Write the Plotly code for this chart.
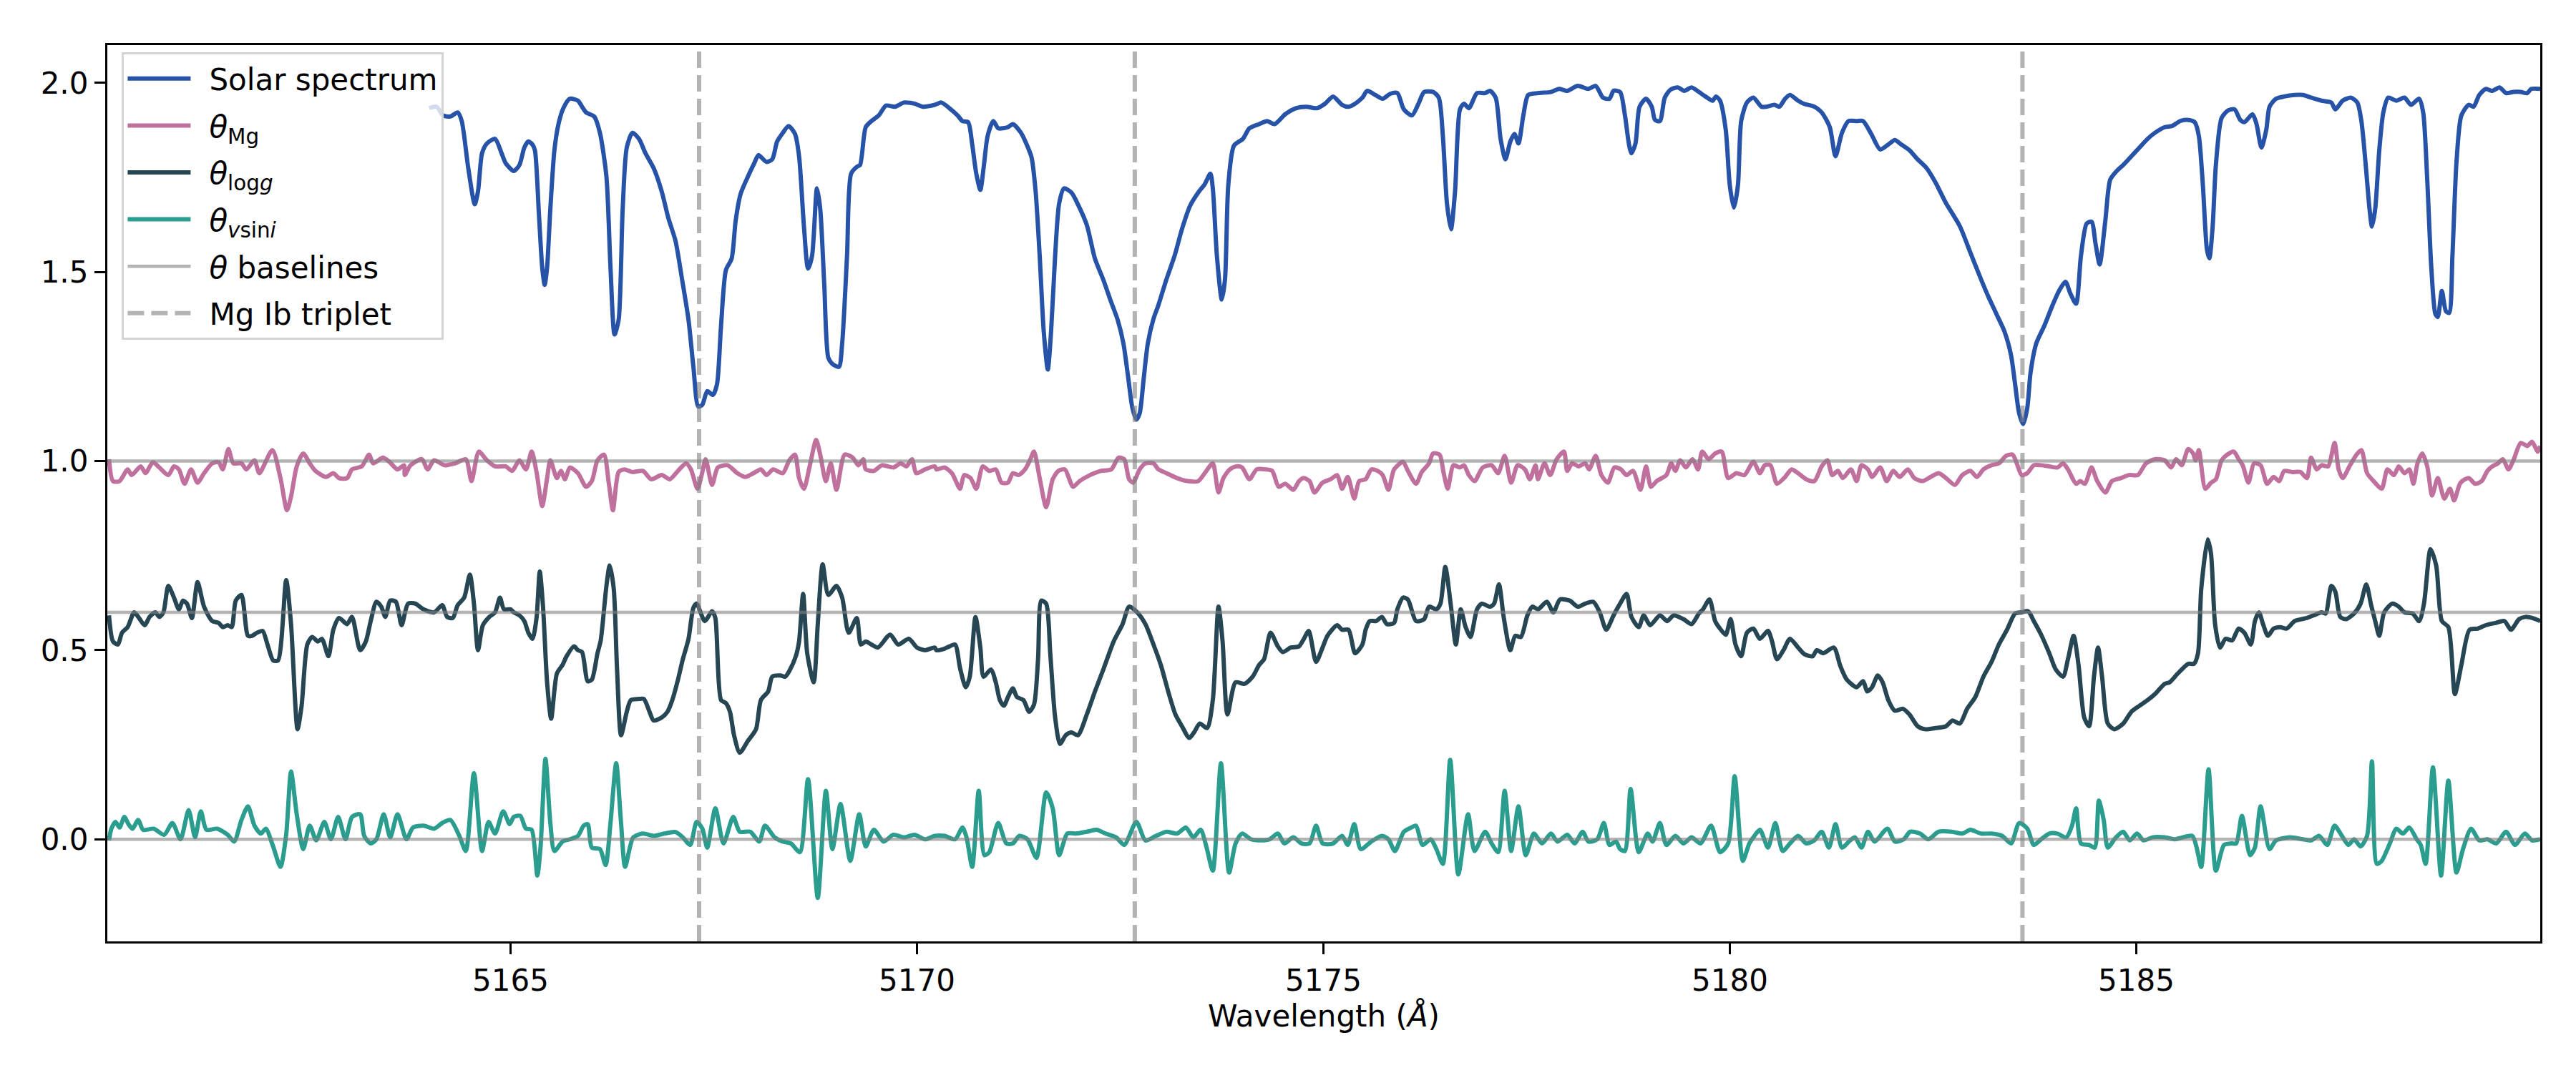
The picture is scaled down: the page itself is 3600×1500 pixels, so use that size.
import plotly.graph_objects as go

# values: (wavelength in A, value)
spectrum_pts = [
    (5164.00, 1.933), (5164.09, 1.937), (5164.17, 1.914), (5164.26, 1.911), (5164.35, 1.922), (5164.40, 1.899),
    (5164.48, 1.775), (5164.56, 1.679), (5164.60, 1.713), (5164.65, 1.814), (5164.71, 1.840), (5164.81, 1.852),
    (5164.89, 1.814), (5164.94, 1.788), (5165.04, 1.767),
    (5165.11, 1.783), (5165.17, 1.829), (5165.22, 1.845), (5165.27, 1.837), (5165.30, 1.822), (5165.35, 1.651),
    (5165.39, 1.512), (5165.42, 1.466), (5165.45, 1.512), (5165.49, 1.667), (5165.54, 1.822), (5165.59, 1.891),
    (5165.65, 1.933), (5165.73, 1.958), (5165.83, 1.953), (5165.88, 1.937), (5165.93, 1.922), (5166.03, 1.911),
    (5166.10, 1.868), (5166.18, 1.752), (5166.23, 1.512), (5166.28, 1.335), (5166.33, 1.373), (5166.38, 1.667),
    (5166.43, 1.829), (5166.50, 1.868), (5166.58, 1.852), (5166.66, 1.814), (5166.76, 1.775), (5166.86, 1.713),
    (5166.94, 1.644), (5167.03, 1.582), (5167.11, 1.481), (5167.19, 1.373), (5167.25, 1.249), (5167.31, 1.144),
    (5167.36, 1.149), (5167.42, 1.185), (5167.49, 1.175), (5167.54, 1.203), (5167.59, 1.358), (5167.65, 1.505),
    (5167.72, 1.535), (5167.77, 1.636), (5167.83, 1.706), (5167.92, 1.752), (5168.00, 1.788), (5168.05, 1.809),
    (5168.15, 1.791), (5168.22, 1.798), (5168.28, 1.845), (5168.35, 1.868), (5168.42, 1.886), (5168.50, 1.865),
    (5168.55, 1.806), (5168.61, 1.620), (5168.66, 1.509), (5168.71, 1.543), (5168.77, 1.721), (5168.81, 1.667),
    (5168.86, 1.466), (5168.91, 1.273), (5168.96, 1.257), (5169.04, 1.249), (5169.08, 1.311), (5169.14, 1.543),
    (5169.19, 1.760), (5169.26, 1.778), (5169.30, 1.783), (5169.37, 1.883), (5169.44, 1.899), (5169.53, 1.914),
    (5169.62, 1.940), (5169.73, 1.937), (5169.84, 1.948), (5169.97, 1.945), (5170.07, 1.937), (5170.22, 1.942),
    (5170.30, 1.948), (5170.40, 1.933), (5170.50, 1.914), (5170.56, 1.899), (5170.63, 1.896), (5170.68, 1.837),
    (5170.73, 1.760), (5170.78, 1.717), (5170.82, 1.775), (5170.87, 1.860), (5170.94, 1.899), (5171.00, 1.880),
    (5171.12, 1.883), (5171.18, 1.891), (5171.28, 1.868), (5171.35, 1.837), (5171.41, 1.803), (5171.46, 1.713),
    (5171.51, 1.543), (5171.56, 1.342), (5171.61, 1.242), (5171.65, 1.342), (5171.70, 1.543), (5171.75, 1.682),
    (5171.81, 1.721), (5171.90, 1.710), (5171.98, 1.679), (5172.09, 1.624), (5172.19, 1.535), (5172.29, 1.481),
    (5172.39, 1.420), (5172.47, 1.373), (5172.54, 1.311), (5172.60, 1.219), (5172.65, 1.141), (5172.70, 1.110),
    (5172.74, 1.126), (5172.79, 1.219), (5172.84, 1.311), (5172.91, 1.376), (5172.97, 1.412), (5173.07, 1.481),
    (5173.17, 1.543), (5173.26, 1.613), (5173.36, 1.675), (5173.46, 1.710), (5173.54, 1.732), (5173.61, 1.760),
    (5173.64, 1.721), (5173.69, 1.543), (5173.75, 1.427), (5173.79, 1.481), (5173.83, 1.729), (5173.90, 1.834),
    (5174.01, 1.852), (5174.09, 1.880), (5174.21, 1.891), (5174.31, 1.899), (5174.40, 1.891), (5174.53, 1.917),
    (5174.66, 1.933), (5174.79, 1.937), (5174.92, 1.933), (5175.02, 1.945), (5175.12, 1.964), (5175.23, 1.942),
    (5175.31, 1.937), (5175.39, 1.945), (5175.48, 1.961), (5175.54, 1.979), (5175.64, 1.968), (5175.73, 1.958),
    (5175.82, 1.971), (5175.91, 1.973), (5175.99, 1.930), (5176.09, 1.914), (5176.17, 1.945), (5176.24, 1.976),
    (5176.35, 1.976), (5176.42, 1.961), (5176.47, 1.860), (5176.52, 1.682), (5176.57, 1.613), (5176.62, 1.713),
    (5176.68, 1.930), (5176.73, 1.945), (5176.79, 1.933), (5176.89, 1.973), (5176.99, 1.973), (5177.05, 1.979),
    (5177.12, 1.961), (5177.18, 1.852), (5177.24, 1.798), (5177.30, 1.845), (5177.35, 1.865), (5177.40, 1.840),
    (5177.46, 1.914), (5177.52, 1.968), (5177.64, 1.973), (5177.80, 1.976), (5177.90, 1.984), (5178.00, 1.979),
    (5178.13, 1.992), (5178.26, 1.984), (5178.35, 1.992), (5178.44, 1.961), (5178.52, 1.958), (5178.57, 1.979),
    (5178.65, 1.976), (5178.71, 1.914), (5178.76, 1.837), (5178.79, 1.814), (5178.84, 1.840), (5178.89, 1.937),
    (5178.97, 1.958), (5179.04, 1.937), (5179.08, 1.902), (5179.14, 1.899), (5179.20, 1.961), (5179.27, 1.982),
    (5179.36, 1.988), (5179.44, 1.979), (5179.53, 1.988), (5179.62, 1.976), (5179.70, 1.964), (5179.79, 1.953),
    (5179.83, 1.964), (5179.88, 1.953), (5179.95, 1.876), (5180.00, 1.729), (5180.05, 1.670), (5180.10, 1.729),
    (5180.14, 1.899), (5180.21, 1.948), (5180.29, 1.961), (5180.39, 1.937), (5180.45, 1.937), (5180.55, 1.942),
    (5180.61, 1.937), (5180.68, 1.958), (5180.74, 1.968), (5180.84, 1.953), (5180.91, 1.945), (5181.04, 1.937),
    (5181.13, 1.922), (5181.23, 1.883), (5181.30, 1.806), (5181.38, 1.868), (5181.46, 1.899), (5181.56, 1.899),
    (5181.64, 1.899), (5181.74, 1.865), (5181.85, 1.824), (5181.95, 1.837), (5182.03, 1.849), (5182.11, 1.837),
    (5182.21, 1.822), (5182.31, 1.798), (5182.42, 1.775), (5182.53, 1.737), (5182.66, 1.682), (5182.83, 1.621),
    (5182.96, 1.551), (5183.09, 1.481), (5183.18, 1.435), (5183.28, 1.389), (5183.38, 1.342), (5183.46, 1.280),
    (5183.51, 1.203), (5183.56, 1.126), (5183.61, 1.098), (5183.66, 1.141), (5183.70, 1.234), (5183.77, 1.311),
    (5183.87, 1.358), (5183.97, 1.412), (5184.05, 1.450), (5184.13, 1.474), (5184.19, 1.443), (5184.26, 1.416),
    (5184.32, 1.543), (5184.39, 1.628), (5184.45, 1.633), (5184.50, 1.574), (5184.55, 1.520), (5184.62, 1.636),
    (5184.68, 1.744), (5184.76, 1.767), (5184.84, 1.783), (5184.94, 1.806), (5185.04, 1.829), (5185.14, 1.852),
    (5185.23, 1.868), (5185.35, 1.883), (5185.44, 1.886), (5185.54, 1.899), (5185.64, 1.902), (5185.72, 1.896),
    (5185.77, 1.860), (5185.82, 1.729), (5185.87, 1.559), (5185.90, 1.536), (5185.94, 1.620), (5185.98, 1.783),
    (5186.05, 1.907), (5186.13, 1.927), (5186.21, 1.930), (5186.28, 1.902), (5186.33, 1.896), (5186.43, 1.917),
    (5186.48, 1.891), (5186.54, 1.829), (5186.60, 1.876), (5186.64, 1.937), (5186.72, 1.958), (5186.82, 1.964),
    (5186.95, 1.968), (5187.05, 1.968), (5187.15, 1.961), (5187.28, 1.953), (5187.40, 1.948), (5187.45, 1.930),
    (5187.54, 1.953), (5187.64, 1.961), (5187.72, 1.948), (5187.77, 1.899), (5187.82, 1.791), (5187.87, 1.667),
    (5187.90, 1.620), (5187.94, 1.667), (5187.99, 1.822), (5188.04, 1.922), (5188.10, 1.961), (5188.20, 1.953),
    (5188.30, 1.961), (5188.38, 1.942), (5188.48, 1.958), (5188.53, 1.922), (5188.58, 1.744), (5188.63, 1.512),
    (5188.68, 1.389), (5188.71, 1.381), (5188.76, 1.450), (5188.81, 1.396), (5188.85, 1.392), (5188.89, 1.543),
    (5188.94, 1.791), (5189.00, 1.914), (5189.09, 1.942), (5189.15, 1.937), (5189.22, 1.968), (5189.30, 1.984),
    (5189.38, 1.979), (5189.47, 1.988), (5189.55, 1.973), (5189.64, 1.976), (5189.73, 1.976), (5189.81, 1.973),
    (5189.86, 1.984), (5189.97, 1.984),
]

theta_mg_pts = [
    (5160.06, 1.005), (5160.11, 0.947), (5160.19, 0.947), (5160.29, 0.978), (5160.34, 0.963), (5160.45, 0.986),
    (5160.51, 0.968), (5160.60, 0.997), (5160.68, 0.983), (5160.79, 0.963), (5160.86, 0.986), (5160.92, 0.978),
    (5160.99, 0.940), (5161.07, 0.978), (5161.15, 0.943), (5161.23, 0.968), (5161.33, 0.994), (5161.41, 0.997),
    (5161.46, 0.978), (5161.53, 1.032), (5161.59, 0.994), (5161.69, 0.994), (5161.75, 0.978), (5161.85, 1.002),
    (5161.91, 0.968), (5162.07, 1.029), (5162.17, 0.955), (5162.25, 0.870), (5162.30, 0.906), (5162.37, 0.986),
    (5162.45, 1.020), (5162.53, 0.994), (5162.60, 0.974), (5162.73, 0.958), (5162.82, 0.968), (5162.89, 0.955),
    (5162.99, 0.955), (5163.05, 0.978), (5163.17, 0.986), (5163.26, 1.017), (5163.31, 0.994), (5163.43, 1.009),
    (5163.51, 0.998), (5163.61, 0.978), (5163.69, 0.989), (5163.70, 0.963), (5163.77, 0.989), (5163.91, 1.005),
    (5163.98, 0.978), (5164.06, 1.002), (5164.19, 0.989), (5164.32, 0.994), (5164.45, 1.005), (5164.52, 0.947),
    (5164.61, 1.025), (5164.71, 1.002), (5164.81, 0.986), (5164.94, 0.986), (5165.02, 0.974),
    (5165.11, 1.002), (5165.19, 0.978), (5165.26, 1.025), (5165.32, 0.971), (5165.39, 0.881), (5165.45, 0.955),
    (5165.49, 1.002), (5165.57, 0.955), (5165.62, 0.974), (5165.67, 0.952), (5165.73, 0.983), (5165.83, 0.968),
    (5165.93, 0.932), (5166.00, 0.947), (5166.07, 1.002), (5166.15, 1.017), (5166.21, 0.940), (5166.26, 0.870),
    (5166.33, 0.971), (5166.40, 0.978), (5166.50, 0.971), (5166.63, 0.974), (5166.73, 0.952), (5166.86, 0.963),
    (5166.96, 0.952), (5167.06, 0.974), (5167.16, 0.994), (5167.22, 0.978), (5167.30, 0.927), (5167.36, 0.971),
    (5167.40, 1.005), (5167.48, 0.937), (5167.55, 0.983), (5167.67, 0.989), (5167.79, 0.968), (5167.89, 0.958),
    (5167.99, 0.968), (5168.08, 0.978), (5168.15, 0.963), (5168.23, 0.978), (5168.35, 0.968), (5168.43, 1.002),
    (5168.50, 1.017), (5168.55, 0.955), (5168.61, 0.927), (5168.68, 0.986), (5168.76, 1.056), (5168.81, 1.017),
    (5168.88, 0.947), (5168.94, 0.994), (5169.01, 0.924), (5169.11, 1.017), (5169.21, 1.009), (5169.28, 0.989),
    (5169.34, 1.005), (5169.37, 0.978), (5169.47, 0.974), (5169.57, 0.989), (5169.71, 0.983), (5169.80, 0.994),
    (5169.87, 0.986), (5169.94, 1.005), (5169.99, 0.968), (5170.10, 0.978), (5170.22, 0.986),
    (5170.24, 0.978), (5170.34, 0.983), (5170.43, 0.968), (5170.53, 0.927), (5170.58, 0.963), (5170.66, 0.955),
    (5170.73, 0.927), (5170.81, 0.986), (5170.89, 0.974), (5170.97, 0.978), (5171.04, 0.943), (5171.12, 0.943),
    (5171.18, 0.968), (5171.25, 0.963), (5171.33, 0.978), (5171.39, 1.002), (5171.44, 1.025), (5171.51, 0.955),
    (5171.59, 0.878), (5171.67, 0.952), (5171.74, 0.974), (5171.82, 0.978), (5171.92, 0.932), (5172.00, 0.947),
    (5172.13, 0.963), (5172.26, 0.974), (5172.39, 0.978), (5172.48, 1.009), (5172.55, 1.005), (5172.61, 0.952),
    (5172.66, 0.943), (5172.74, 0.978), (5172.81, 0.994), (5172.91, 0.994), (5172.97, 0.978), (5173.07, 0.968),
    (5173.20, 0.955), (5173.33, 0.947), (5173.46, 0.947), (5173.56, 0.974), (5173.64, 0.994), (5173.71, 0.917),
    (5173.77, 0.955), (5173.85, 0.978), (5173.93, 0.986), (5174.00, 0.983), (5174.09, 0.952), (5174.18, 0.978),
    (5174.29, 0.978), (5174.37, 0.974), (5174.45, 0.932), (5174.53, 0.940), (5174.63, 0.924), (5174.70, 0.947),
    (5174.76, 0.955), (5174.83, 0.947), (5174.89, 0.917), (5174.99, 0.943), (5175.09, 0.952), (5175.17, 0.963),
    (5175.23, 0.927), (5175.30, 0.958), (5175.38, 0.901), (5175.44, 0.947), (5175.52, 0.952), (5175.59, 0.978),
    (5175.67, 0.974), (5175.73, 0.963), (5175.80, 0.924), (5175.87, 0.978), (5175.98, 0.998), (5176.04, 0.974),
    (5176.14, 0.940), (5176.21, 0.971), (5176.30, 0.994), (5176.35, 1.020), (5176.43, 1.017), (5176.48, 0.968),
    (5176.53, 0.927), (5176.60, 0.989), (5176.68, 0.983), (5176.73, 0.989), (5176.79, 0.963), (5176.86, 0.947),
    (5176.96, 0.983), (5177.07, 0.989), (5177.15, 0.968), (5177.23, 1.014), (5177.31, 0.943), (5177.39, 0.989),
    (5177.48, 0.978), (5177.54, 0.952), (5177.61, 0.989), (5177.64, 0.952), (5177.72, 0.994), (5177.79, 0.963),
    (5177.87, 1.005), (5177.96, 1.025), (5178.00, 0.974), (5178.06, 0.994), (5178.14, 0.986), (5178.22, 0.994),
    (5178.27, 0.978), (5178.35, 1.014), (5178.42, 0.963), (5178.50, 0.943), (5178.58, 0.983), (5178.66, 0.978),
    (5178.73, 0.963), (5178.81, 0.974), (5178.90, 0.924), (5178.97, 0.986), (5179.03, 0.932), (5179.10, 0.947),
    (5179.22, 0.963), (5179.28, 0.994), (5179.33, 0.974), (5179.39, 1.002), (5179.46, 0.983), (5179.54, 1.005),
    (5179.61, 0.978), (5179.66, 1.025), (5179.74, 1.005), (5179.82, 1.020), (5179.90, 1.025), (5179.98, 0.955),
    (5180.08, 0.968), (5180.18, 0.963), (5180.29, 0.998), (5180.37, 0.968), (5180.43, 0.989), (5180.50, 0.989),
    (5180.58, 0.940), (5180.68, 0.958), (5180.76, 0.978), (5180.84, 0.968), (5180.94, 0.952), (5181.04, 0.947),
    (5181.13, 0.986), (5181.20, 1.002), (5181.26, 0.963), (5181.33, 0.974), (5181.39, 0.955), (5181.49, 0.978),
    (5181.56, 0.947), (5181.62, 0.989), (5181.70, 0.978), (5181.75, 0.958), (5181.85, 0.983), (5181.93, 0.947),
    (5182.01, 0.974), (5182.09, 0.958), (5182.19, 0.978), (5182.27, 0.955), (5182.37, 0.947), (5182.47, 0.958),
    (5182.57, 0.968), (5182.66, 0.955), (5182.77, 0.937), (5182.86, 0.963), (5182.96, 0.974), (5183.04, 0.958),
    (5183.12, 0.978), (5183.22, 0.989), (5183.31, 0.994), (5183.40, 1.014), (5183.48, 1.017), (5183.53, 0.994),
    (5183.59, 0.963), (5183.66, 0.968), (5183.74, 0.989), (5183.83, 0.989), (5183.93, 0.986), (5184.03, 0.983),
    (5184.10, 0.994), (5184.16, 0.978), (5184.26, 0.940), (5184.31, 0.947), (5184.37, 0.940), (5184.45, 0.983),
    (5184.52, 0.947), (5184.62, 0.917), (5184.70, 0.947), (5184.81, 0.955), (5184.91, 0.963), (5185.02, 0.963),
    (5185.12, 0.994), (5185.23, 1.005), (5185.35, 1.002), (5185.43, 0.983), (5185.49, 1.005), (5185.56, 0.989),
    (5185.64, 1.032), (5185.70, 1.020), (5185.73, 1.002), (5185.77, 1.029), (5185.85, 0.927), (5185.92, 0.943),
    (5185.98, 0.952), (5186.05, 1.002), (5186.12, 1.017), (5186.20, 1.025), (5186.26, 1.005), (5186.31, 0.989),
    (5186.38, 0.943), (5186.45, 0.994), (5186.53, 0.989), (5186.61, 0.940), (5186.69, 0.958), (5186.76, 0.947),
    (5186.82, 0.974), (5186.92, 0.971), (5187.02, 0.971), (5187.10, 0.955), (5187.15, 1.009), (5187.22, 0.978),
    (5187.28, 0.989), (5187.36, 0.986), (5187.44, 1.048), (5187.49, 0.978), (5187.54, 0.955), (5187.63, 0.989),
    (5187.71, 1.017), (5187.77, 1.029), (5187.84, 0.968), (5187.92, 0.947), (5188.02, 0.927), (5188.09, 0.978),
    (5188.17, 0.963), (5188.23, 0.986), (5188.30, 0.968), (5188.36, 0.978), (5188.41, 0.940), (5188.46, 0.994),
    (5188.52, 1.020), (5188.58, 0.986), (5188.64, 0.909), (5188.71, 0.955), (5188.79, 0.901), (5188.86, 0.927),
    (5188.91, 0.896), (5188.99, 0.943), (5189.09, 0.955), (5189.17, 0.940), (5189.25, 0.947), (5189.32, 0.974),
    (5189.38, 0.986), (5189.45, 0.994), (5189.51, 1.005), (5189.58, 0.978), (5189.64, 1.002), (5189.73, 1.048),
    (5189.81, 1.040), (5189.87, 1.051), (5189.94, 1.025), (5189.97, 1.040),
]

theta_logg_pts = [
    (5160.06, 0.592), (5160.11, 0.523), (5160.17, 0.515), (5160.22, 0.546), (5160.29, 0.561), (5160.37, 0.600),
    (5160.43, 0.585), (5160.50, 0.566), (5160.56, 0.588), (5160.63, 0.600), (5160.68, 0.588), (5160.73, 0.600),
    (5160.79, 0.670), (5160.86, 0.639), (5160.92, 0.608), (5160.97, 0.631), (5161.02, 0.623), (5161.08, 0.585),
    (5161.15, 0.680), (5161.23, 0.615), (5161.33, 0.577), (5161.41, 0.572), (5161.46, 0.561), (5161.52, 0.566),
    (5161.57, 0.561), (5161.62, 0.631), (5161.69, 0.646), (5161.77, 0.538), (5161.82, 0.538), (5161.88, 0.546),
    (5161.95, 0.551), (5162.01, 0.515), (5162.08, 0.473), (5162.14, 0.473), (5162.24, 0.685), (5162.30, 0.569),
    (5162.38, 0.291), (5162.43, 0.353), (5162.50, 0.515), (5162.56, 0.535), (5162.63, 0.523), (5162.68, 0.530),
    (5162.76, 0.484), (5162.82, 0.554), (5162.89, 0.585), (5162.99, 0.569), (5163.05, 0.588), (5163.15, 0.500),
    (5163.22, 0.523), (5163.28, 0.577), (5163.35, 0.628), (5163.41, 0.615), (5163.46, 0.588), (5163.52, 0.631),
    (5163.59, 0.628), (5163.66, 0.566), (5163.74, 0.623), (5163.83, 0.623), (5163.93, 0.608), (5164.06, 0.600),
    (5164.16, 0.619), (5164.22, 0.588), (5164.29, 0.585), (5164.35, 0.619), (5164.43, 0.639), (5164.50, 0.700),
    (5164.55, 0.623), (5164.60, 0.500), (5164.66, 0.566), (5164.74, 0.588), (5164.81, 0.600), (5164.87, 0.639),
    (5164.92, 0.608), (5165.00, 0.608),
    (5165.04, 0.600), (5165.11, 0.592), (5165.17, 0.577), (5165.22, 0.546), (5165.27, 0.530), (5165.32, 0.585),
    (5165.36, 0.708), (5165.40, 0.615), (5165.45, 0.415), (5165.50, 0.319), (5165.57, 0.438), (5165.64, 0.461),
    (5165.69, 0.484), (5165.78, 0.510), (5165.83, 0.500), (5165.88, 0.495), (5165.95, 0.418), (5166.00, 0.422),
    (5166.07, 0.492), (5166.11, 0.526), (5166.18, 0.670), (5166.22, 0.724), (5166.27, 0.662), (5166.31, 0.453),
    (5166.36, 0.275), (5166.43, 0.337), (5166.48, 0.368), (5166.58, 0.371), (5166.64, 0.371), (5166.71, 0.337),
    (5166.76, 0.314), (5166.86, 0.322), (5166.93, 0.337), (5166.99, 0.368), (5167.06, 0.422), (5167.12, 0.476),
    (5167.19, 0.530), (5167.25, 0.612), (5167.29, 0.623), (5167.39, 0.577), (5167.48, 0.603), (5167.52, 0.585),
    (5167.59, 0.368), (5167.65, 0.360), (5167.70, 0.337), (5167.75, 0.275), (5167.82, 0.229), (5167.92, 0.260),
    (5168.02, 0.291), (5168.08, 0.368), (5168.17, 0.391), (5168.22, 0.430), (5168.32, 0.433), (5168.38, 0.430),
    (5168.43, 0.445), (5168.51, 0.484), (5168.55, 0.523), (5168.60, 0.649), (5168.65, 0.492), (5168.73, 0.415),
    (5168.78, 0.569), (5168.84, 0.727), (5168.91, 0.646), (5169.01, 0.670), (5169.08, 0.639), (5169.16, 0.546),
    (5169.26, 0.585), (5169.31, 0.515), (5169.37, 0.523), (5169.44, 0.515), (5169.52, 0.507), (5169.67, 0.541),
    (5169.77, 0.515), (5169.90, 0.530), (5170.00, 0.507), (5170.10, 0.500), (5170.22, 0.507),
    (5170.24, 0.500), (5170.34, 0.504), (5170.40, 0.510), (5170.47, 0.515), (5170.53, 0.453), (5170.60, 0.402),
    (5170.65, 0.430), (5170.72, 0.588), (5170.78, 0.507), (5170.82, 0.430), (5170.91, 0.449), (5170.97, 0.415),
    (5171.02, 0.368), (5171.07, 0.353), (5171.12, 0.376), (5171.18, 0.399), (5171.23, 0.376), (5171.31, 0.368),
    (5171.38, 0.337), (5171.44, 0.356), (5171.49, 0.476), (5171.53, 0.631), (5171.59, 0.623), (5171.64, 0.492),
    (5171.70, 0.322), (5171.76, 0.252), (5171.83, 0.275), (5171.90, 0.283), (5171.98, 0.275), (5172.09, 0.330),
    (5172.19, 0.391), (5172.30, 0.453), (5172.42, 0.523), (5172.53, 0.569), (5172.61, 0.615), (5172.71, 0.600),
    (5172.81, 0.569), (5172.91, 0.515), (5173.00, 0.461), (5173.10, 0.384), (5173.18, 0.330), (5173.26, 0.299),
    (5173.35, 0.268), (5173.41, 0.283), (5173.48, 0.306), (5173.57, 0.294), (5173.64, 0.368), (5173.71, 0.615),
    (5173.76, 0.523), (5173.82, 0.330), (5173.92, 0.415), (5174.03, 0.411), (5174.13, 0.430), (5174.21, 0.461),
    (5174.27, 0.476), (5174.35, 0.546), (5174.44, 0.510), (5174.50, 0.495), (5174.60, 0.507), (5174.70, 0.510),
    (5174.76, 0.530), (5174.82, 0.551), (5174.91, 0.469), (5174.99, 0.507), (5175.05, 0.538), (5175.17, 0.566),
    (5175.23, 0.554), (5175.31, 0.554), (5175.39, 0.492), (5175.48, 0.515), (5175.52, 0.554), (5175.57, 0.577),
    (5175.65, 0.577), (5175.72, 0.588), (5175.78, 0.569), (5175.87, 0.572), (5175.91, 0.608), (5175.98, 0.639),
    (5176.04, 0.634), (5176.14, 0.577), (5176.24, 0.582), (5176.30, 0.615), (5176.39, 0.608), (5176.44, 0.623),
    (5176.50, 0.720), (5176.57, 0.615), (5176.63, 0.515), (5176.69, 0.608), (5176.75, 0.561), (5176.81, 0.535),
    (5176.89, 0.608), (5176.95, 0.623), (5177.05, 0.615), (5177.10, 0.623), (5177.16, 0.674), (5177.22, 0.585),
    (5177.30, 0.500), (5177.36, 0.538), (5177.43, 0.535), (5177.51, 0.592), (5177.57, 0.615), (5177.64, 0.608),
    (5177.75, 0.628), (5177.83, 0.600), (5177.91, 0.634), (5178.03, 0.631), (5178.13, 0.615), (5178.22, 0.623),
    (5178.32, 0.628), (5178.40, 0.600), (5178.48, 0.554), (5178.57, 0.592), (5178.65, 0.623), (5178.73, 0.649),
    (5178.79, 0.588), (5178.88, 0.561), (5178.94, 0.592), (5179.02, 0.566), (5179.14, 0.592), (5179.23, 0.577),
    (5179.31, 0.592), (5179.43, 0.582), (5179.53, 0.569), (5179.62, 0.597), (5179.67, 0.608), (5179.75, 0.634),
    (5179.82, 0.577), (5179.88, 0.557), (5179.95, 0.541), (5180.01, 0.582), (5180.07, 0.515), (5180.14, 0.484),
    (5180.21, 0.546), (5180.29, 0.557), (5180.37, 0.530), (5180.47, 0.551), (5180.52, 0.523), (5180.58, 0.476),
    (5180.66, 0.500), (5180.74, 0.530), (5180.84, 0.507), (5180.92, 0.489), (5181.02, 0.484), (5181.07, 0.500),
    (5181.15, 0.492), (5181.28, 0.507), (5181.36, 0.458), (5181.44, 0.422), (5181.56, 0.402), (5181.64, 0.418),
    (5181.69, 0.391), (5181.75, 0.402), (5181.82, 0.433), (5181.88, 0.415), (5181.95, 0.368), (5182.03, 0.340),
    (5182.13, 0.345), (5182.21, 0.330), (5182.31, 0.299), (5182.40, 0.291), (5182.53, 0.294), (5182.66, 0.299),
    (5182.74, 0.314), (5182.83, 0.306), (5182.92, 0.345), (5183.02, 0.376), (5183.12, 0.430), (5183.22, 0.469),
    (5183.31, 0.515), (5183.41, 0.554), (5183.51, 0.597), (5183.59, 0.600), (5183.67, 0.603), (5183.74, 0.577),
    (5183.83, 0.541), (5183.93, 0.492), (5184.01, 0.449), (5184.10, 0.430), (5184.16, 0.476), (5184.23, 0.538),
    (5184.29, 0.461), (5184.36, 0.322), (5184.42, 0.299), (5184.48, 0.430), (5184.53, 0.507), (5184.58, 0.430),
    (5184.65, 0.306), (5184.73, 0.291), (5184.84, 0.306), (5184.94, 0.337), (5185.04, 0.353), (5185.14, 0.368),
    (5185.23, 0.384), (5185.35, 0.411), (5185.41, 0.415), (5185.51, 0.438), (5185.64, 0.464), (5185.71, 0.464),
    (5185.76, 0.492), (5185.80, 0.662), (5185.88, 0.793), (5185.92, 0.755), (5185.97, 0.569), (5186.03, 0.507),
    (5186.10, 0.530), (5186.18, 0.526), (5186.26, 0.557), (5186.33, 0.546), (5186.41, 0.515), (5186.46, 0.577),
    (5186.51, 0.600), (5186.56, 0.569), (5186.62, 0.538), (5186.69, 0.557), (5186.77, 0.561), (5186.85, 0.557),
    (5186.95, 0.577), (5187.10, 0.585), (5187.18, 0.592), (5187.28, 0.600), (5187.33, 0.597), (5187.40, 0.670),
    (5187.45, 0.654), (5187.51, 0.588), (5187.58, 0.582), (5187.68, 0.597), (5187.76, 0.623), (5187.83, 0.674),
    (5187.89, 0.619), (5187.94, 0.577), (5187.99, 0.538), (5188.05, 0.600), (5188.15, 0.623), (5188.23, 0.615),
    (5188.30, 0.600), (5188.40, 0.597), (5188.48, 0.577), (5188.54, 0.623), (5188.62, 0.767), (5188.69, 0.724),
    (5188.76, 0.577), (5188.84, 0.561), (5188.92, 0.384), (5189.00, 0.461), (5189.10, 0.554), (5189.20, 0.557),
    (5189.30, 0.566), (5189.42, 0.572), (5189.53, 0.577), (5189.61, 0.554), (5189.71, 0.582), (5189.79, 0.588),
    (5189.87, 0.585), (5189.97, 0.577),
]

theta_vsini_pts = [
    (5160.06, -0.003), (5160.09, 0.028), (5160.14, 0.046), (5160.19, 0.031), (5160.25, 0.059), (5160.30, 0.040),
    (5160.35, 0.028), (5160.42, 0.051), (5160.48, 0.025), (5160.61, 0.028), (5160.74, 0.012), (5160.84, 0.043),
    (5160.94, 0.000), (5161.04, 0.077), (5161.12, 0.005), (5161.19, 0.074), (5161.26, 0.025), (5161.39, 0.028),
    (5161.52, 0.012), (5161.60, -0.006), (5161.69, 0.051), (5161.77, 0.087), (5161.85, 0.036), (5161.93, 0.015),
    (5161.99, 0.028), (5162.08, -0.019), (5162.17, -0.073), (5162.24, 0.012), (5162.30, 0.179), (5162.37, 0.066),
    (5162.45, -0.026), (5162.53, 0.036), (5162.61, -0.003), (5162.71, 0.046), (5162.79, 0.000), (5162.88, 0.059),
    (5162.97, 0.000), (5163.05, 0.059), (5163.15, 0.066), (5163.20, 0.009), (5163.28, -0.011), (5163.35, 0.000),
    (5163.44, 0.066), (5163.52, 0.005), (5163.61, 0.066), (5163.72, 0.000), (5163.80, 0.031), (5163.93, 0.036),
    (5164.06, 0.028), (5164.16, 0.043), (5164.26, 0.051), (5164.37, 0.009), (5164.45, -0.031), (5164.55, 0.175),
    (5164.65, -0.031), (5164.73, 0.046), (5164.81, 0.015), (5164.91, 0.074), (5164.99, 0.040),
    (5165.04, 0.059), (5165.12, 0.062), (5165.19, 0.028), (5165.26, 0.025), (5165.33, -0.096), (5165.37, -0.019),
    (5165.43, 0.213), (5165.49, 0.043), (5165.54, -0.031), (5165.64, -0.006), (5165.73, 0.000), (5165.83, 0.009),
    (5165.90, 0.036), (5165.95, 0.040), (5166.00, -0.022), (5166.10, -0.026), (5166.17, -0.068), (5166.23, 0.043),
    (5166.30, 0.201), (5166.36, 0.043), (5166.41, -0.073), (5166.51, 0.005), (5166.63, 0.015), (5166.76, 0.009),
    (5166.89, 0.015), (5167.03, 0.019), (5167.12, 0.005), (5167.21, -0.015), (5167.29, 0.046), (5167.36, 0.028),
    (5167.42, -0.022), (5167.52, 0.082), (5167.62, -0.011), (5167.74, 0.059), (5167.82, 0.020), (5167.95, 0.020),
    (5168.06, -0.006), (5168.13, 0.036), (5168.25, 0.005), (5168.35, -0.006), (5168.45, -0.011), (5168.56, -0.034),
    (5168.66, 0.159), (5168.78, -0.155), (5168.88, 0.128), (5168.96, -0.026), (5169.06, 0.093), (5169.18, -0.057),
    (5169.29, 0.066), (5169.37, -0.019), (5169.47, 0.025), (5169.59, -0.006), (5169.71, 0.012), (5169.84, 0.005),
    (5169.97, 0.012), (5170.10, 0.000), (5170.22, 0.009),
    (5170.34, 0.009), (5170.47, 0.000), (5170.56, 0.031), (5170.61, 0.005), (5170.68, -0.073), (5170.76, 0.128),
    (5170.83, -0.042), (5170.89, -0.034), (5171.00, 0.043), (5171.10, -0.011), (5171.18, -0.011), (5171.26, 0.009),
    (5171.36, 0.000), (5171.47, -0.049), (5171.59, 0.124), (5171.67, 0.082), (5171.75, -0.042), (5171.85, 0.015),
    (5171.96, 0.015), (5172.09, 0.020), (5172.21, 0.025), (5172.32, 0.015), (5172.45, 0.005), (5172.55, -0.015),
    (5172.70, 0.046), (5172.81, -0.003), (5172.94, 0.009), (5173.07, 0.020), (5173.20, 0.015), (5173.31, 0.031),
    (5173.40, 0.005), (5173.49, 0.025), (5173.56, -0.019), (5173.64, -0.083), (5173.74, 0.201), (5173.84, -0.088),
    (5173.92, -0.011), (5174.00, 0.015), (5174.11, 0.000), (5174.24, -0.003), (5174.34, 0.000), (5174.44, 0.015),
    (5174.52, -0.011), (5174.63, 0.005), (5174.73, -0.011), (5174.83, -0.011), (5174.91, 0.036), (5174.99, -0.011),
    (5175.12, -0.011), (5175.23, 0.009),
    (5175.30, -0.015), (5175.38, 0.040), (5175.46, -0.026), (5175.59, -0.006), (5175.72, 0.009), (5175.80, 0.000),
    (5175.88, -0.031), (5175.99, 0.020), (5176.08, 0.031), (5176.14, 0.036), (5176.22, -0.015), (5176.32, 0.000),
    (5176.39, -0.026), (5176.47, -0.065), (5176.56, 0.210), (5176.66, -0.093), (5176.78, 0.066), (5176.86, -0.031),
    (5176.99, 0.020), (5177.07, -0.011), (5177.15, -0.034), (5177.23, 0.128), (5177.31, -0.031), (5177.40, 0.087),
    (5177.49, -0.042), (5177.59, 0.015), (5177.69, -0.011), (5177.80, 0.015), (5177.88, -0.006), (5178.00, 0.012),
    (5178.09, -0.011), (5178.19, 0.020), (5178.26, -0.006), (5178.37, 0.000), (5178.45, 0.043), (5178.52, -0.015),
    (5178.60, -0.006), (5178.65, -0.026), (5178.71, -0.031), (5178.78, 0.133), (5178.88, -0.034), (5178.99, 0.015),
    (5179.05, -0.006), (5179.14, 0.043), (5179.22, -0.015), (5179.33, 0.009), (5179.43, -0.011), (5179.53, 0.005),
    (5179.64, -0.011), (5179.77, 0.036), (5179.88, -0.034), (5179.98, -0.011), (5180.06, 0.167), (5180.16, -0.057),
    (5180.24, -0.011), (5180.29, 0.005),
    (5180.37, 0.025), (5180.47, -0.022), (5180.56, 0.043), (5180.65, -0.031), (5180.74, -0.011), (5180.84, 0.009),
    (5180.94, -0.011), (5181.04, -0.003), (5181.13, 0.020), (5181.22, -0.022), (5181.30, 0.040), (5181.38, -0.022),
    (5181.48, -0.003), (5181.54, 0.005), (5181.62, -0.022), (5181.70, 0.020), (5181.78, -0.006), (5181.94, 0.028),
    (5182.03, -0.006), (5182.14, 0.000), (5182.22, 0.020), (5182.34, 0.015), (5182.44, 0.000), (5182.57, 0.020),
    (5182.73, 0.020), (5182.86, 0.015), (5182.96, 0.025), (5183.09, 0.015), (5183.22, 0.015), (5183.35, 0.009),
    (5183.46, -0.011), (5183.56, 0.043), (5183.66, 0.028), (5183.74, -0.015), (5183.83, 0.000), (5183.93, 0.015),
    (5184.03, 0.015), (5184.14, 0.005), (5184.21, 0.036), (5184.26, 0.082), (5184.32, -0.011), (5184.42, -0.015),
    (5184.49, -0.022), (5184.54, 0.102), (5184.60, 0.051), (5184.65, -0.022), (5184.75, 0.005), (5184.84, 0.020),
    (5184.92, -0.003), (5185.01, 0.015), (5185.09, -0.003), (5185.20, 0.005), (5185.35, 0.005),
    (5185.48, 0.000), (5185.57, 0.005), (5185.69, 0.009), (5185.74, -0.019), (5185.80, -0.073), (5185.89, 0.185),
    (5185.98, -0.083), (5186.08, -0.015), (5186.17, -0.011), (5186.23, -0.011), (5186.30, 0.062), (5186.40, -0.042),
    (5186.46, -0.022), (5186.53, 0.087), (5186.64, -0.026), (5186.72, -0.003), (5186.89, 0.005), (5187.05, 0.000),
    (5187.15, -0.003), (5187.25, 0.009), (5187.35, -0.015), (5187.44, 0.036), (5187.53, 0.009), (5187.61, -0.015),
    (5187.68, 0.000), (5187.76, -0.019), (5187.84, 0.009), (5187.90, 0.206), (5187.96, -0.065), (5188.02, -0.057),
    (5188.12, -0.011), (5188.20, 0.028), (5188.28, 0.015), (5188.36, 0.031), (5188.45, 0.000), (5188.50, -0.015),
    (5188.56, -0.065), (5188.65, 0.190), (5188.75, -0.096), (5188.84, 0.155), (5188.94, -0.088), (5189.02, -0.026),
    (5189.12, 0.028), (5189.22, -0.003), (5189.32, 0.000), (5189.43, -0.011), (5189.55, 0.020), (5189.66, -0.015),
    (5189.78, 0.015), (5189.87, -0.003), (5189.97, 0.000),
]

baseline_levels = [1.0, 0.6, 0.0]
mg_triplet = [5167.32, 5172.68, 5183.60]
x_range = [5160.04, 5189.97]
y_range = [-0.27, 2.10]
x_ticks = [5165, 5170, 5175, 5180, 5185]
y_ticks = [0.0, 0.5, 1.0, 1.5, 2.0]

BLUE = "#2653a8"
PINK = "#c0709c"
DARK = "#264653"
TEAL = "#2a9d8f"
GREY = "rgba(128,128,128,0.6)"
FONT = "DejaVu Sans"
SP = "\u2002"  # small gap between legend sample and label


def unzip(pts):
    return [p[0] for p in pts], [p[1] for p in pts]


fig = go.Figure()

series = [
    (spectrum_pts, "Solar spectrum", BLUE),
    (theta_mg_pts, "<i>θ</i><sub>Mg</sub>", PINK),
    (theta_logg_pts, "<i>θ</i><sub>log<i>g</i></sub>", DARK),
    (theta_vsini_pts, "<i>θ</i><sub><i>v</i>sin<i>i</i></sub>", TEAL),
]
for i, (pts, name, col) in enumerate(series):
    xs, ys = unzip(pts)
    fig.add_trace(go.Scatter(x=xs, y=ys, mode="lines", name=SP + name, legendgroup=str(i),
                             line=dict(color=col, width=6, shape="spline", smoothing=0.7)))

# horizontal baselines across the whole axis
bx, by = [], []
for lev in baseline_levels:
    bx += [x_range[0], x_range[1], None]
    by += [lev, lev, None]
fig.add_trace(go.Scatter(x=bx, y=by, mode="lines", name=SP + "<i>θ</i> baselines", legendgroup="b",
                         line=dict(color=GREY, width=4.5)))

# Mg Ib triplet markers
vx, vy = [], []
for w in mg_triplet:
    vx += [w, w, None]
    vy += [y_range[0], y_range[1], None]
fig.add_trace(go.Scatter(x=vx, y=vy, mode="lines", name=SP + "Mg Ib triplet", legendgroup="t",
                         line=dict(color=GREY, width=6, dash="23px,10px")))

axis_common = dict(
    showline=True, mirror=True, linecolor="black", linewidth=3.3,
    ticks="outside", ticklen=15, tickwidth=3.3, tickcolor="black",
    showgrid=False, zeroline=False,
    tickfont=dict(family=FONT, size=42, color="black"),
)

fig.update_xaxes(range=x_range, tickvals=x_ticks, ticktext=[str(t) for t in x_ticks],
                 title=dict(text="Wavelength (<i>Å</i>)", font=dict(family=FONT, size=42, color="black"),
                            standoff=12),
                 **axis_common)
fig.update_yaxes(range=y_range, tickvals=y_ticks, ticktext=["%.1f" % t for t in y_ticks],
                 **axis_common)

fig.update_layout(
    width=3600, height=1500,
    margin=dict(l=142, r=58, t=55, b=192),
    plot_bgcolor="white", paper_bgcolor="white",
    font=dict(family=FONT, size=42, color="black"),
    showlegend=True,
    legend=dict(
        x=0.006, y=0.992, xanchor="left", yanchor="top",
        bgcolor="rgba(255,255,255,0.8)", bordercolor="#d4d4d4", borderwidth=3,
        font=dict(family=FONT, size=42, color="black"),
        itemwidth=88, tracegroupgap=8,
    ),
)

fig.write_html("out.html")
